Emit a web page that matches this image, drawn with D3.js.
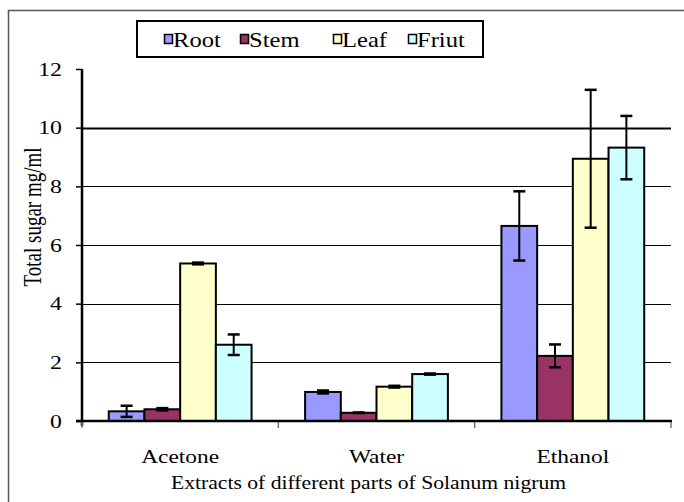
<!DOCTYPE html>
<html>
<head>
<meta charset="utf-8">
<script src="https://cdn.jsdelivr.net/npm/d3@7"></script>
<style>
  body { margin: 0; background: #fff; }
</style>
</head>
<body>
<div id="chart"></div>
<script>
// data
var categories = ["Acetone", "Water", "Ethanol"];
var seriesNames = ["Root", "Stem", "Leaf", "Friut"];
var rootValues = [0.33, 0.99, 6.65];
var stemValues = [0.40, 0.28, 2.22];
var leafValues = [5.37, 1.17, 8.94];
var fruitValues = [2.60, 1.60, 9.32];
var rootErr = [0.19, 0.05, 1.18];
var stemErr = [0.04, 0.01, 0.39];
var leafErr = [0.03, 0.03, 2.35];
var fruitErr = [0.35, 0.02, 1.08];
var yTicks = [0, 2, 4, 6, 8, 10, 12];
var colors = ["#9999ff", "#993366", "#ffffcc", "#ccffff"];

var svgWidth = 684;
var svgHeight = 502;
var margin = { top: 69, right: 13, bottom: 81, left: 82 };
var width = svgWidth - margin.left - margin.right;
var height = svgHeight - margin.top - margin.bottom;
var stretch = 1.22;
var serif = "'Liberation Serif', 'Times New Roman', Tinos, 'DejaVu Serif', serif";

var svg = d3.select("#chart")
  .append("svg")
  .attr("width", svgWidth)
  .attr("height", svgHeight)
  .style("font-family", serif);

// outer frame
svg.append("rect")
  .attr("x", 8.5).attr("y", 10.5)
  .attr("width", 700).attr("height", 520)
  .attr("fill", "none")
  .attr("stroke", "#555")
  .attr("stroke-width", 1.5);

var chartGroup = svg.append("g")
  .attr("transform", `translate(${margin.left}, ${margin.top})`);

var valuesBySeries = [rootValues, stemValues, leafValues, fruitValues];
var errBySeries = [rootErr, stemErr, leafErr, fruitErr];

var data = [];
categories.forEach(function(cat, ci) {
  seriesNames.forEach(function(s, si) {
    data.push({ cat: cat, series: s, si: si, value: valuesBySeries[si][ci], err: errBySeries[si][ci] });
  });
});

var x0 = d3.scaleBand().domain(categories).range([0, width]);
// excel style gap of 150% of a bar width
var bw = x0.bandwidth() / 5.5;
var x1 = d3.scaleBand().domain(seriesNames)
  .range([bw * 0.75, bw * 4.75]);

var y = d3.scaleLinear().domain([0, 12]).range([height, 0]);

// gridlines
chartGroup.selectAll(".grid")
  .data(yTicks.filter(d => d > 0 && d < 12))
  .enter()
  .append("line")
  .attr("x1", 0).attr("x2", width)
  .attr("y1", d => Math.round(y(d)) + 0.5)
  .attr("y2", d => Math.round(y(d)) + 0.5)
  .attr("stroke", "#000")
  .attr("stroke-width", d => d === 10 ? 2 : 1);

// bars
chartGroup.selectAll(".bar")
  .data(data)
  .enter()
  .append("rect")
  .attr("x", d => x0(d.cat) + x1(d.series))
  .attr("y", d => y(d.value))
  .attr("width", x1.bandwidth())
  .attr("height", d => height - y(d.value))
  .attr("fill", d => colors[d.si])
  .attr("stroke", "#000")
  .attr("stroke-width", 2);

// error bars
var errGroup = chartGroup.selectAll(".err")
  .data(data)
  .enter()
  .append("g")
  .attr("transform", d => `translate(${x0(d.cat) + x1(d.series) + x1.bandwidth() / 2}, 0)`);

errGroup.append("line")
  .attr("x1", 0).attr("x2", 0)
  .attr("y1", d => y(d.value + d.err))
  .attr("y2", d => y(d.value - d.err))
  .attr("stroke", "#000").attr("stroke-width", 2);

errGroup.selectAll(".cap")
  .data(d => [d.value + d.err, d.value - d.err])
  .enter()
  .append("line")
  .attr("x1", -6).attr("x2", 6)
  .attr("y1", d => y(d)).attr("y2", d => y(d))
  .attr("stroke", "#000").attr("stroke-width", 2.5);

// y axis
var leftAxis = d3.axisLeft(y).tickValues(yTicks).tickSize(6).tickFormat(d3.format("d"));
var yAxis = chartGroup.append("g").call(leftAxis);
yAxis.select(".domain").remove();
yAxis.selectAll(".tick line").attr("stroke", "#000").attr("stroke-width", 1.5);
yAxis.selectAll(".tick text").remove();
chartGroup.append("line")
  .attr("x1", 0).attr("x2", 0)
  .attr("y1", 0).attr("y2", height + 5)
  .attr("stroke", "#000").attr("stroke-width", 2.5);

yAxis.selectAll(".tick")
  .append("text")
  .attr("text-anchor", "end")
  .attr("font-family", serif)
  .attr("font-size", 19.5)
  .attr("fill", "#000")
  .attr("transform", `translate(-20, 6) scale(${stretch}, 1)`)
  .text(d => d);

// x axis
var xAxis = chartGroup.append("g")
  .attr("transform", `translate(0, ${height})`);
xAxis.selectAll(".xtick")
  .data(categories.map(c => x0(c)).concat([width]))
  .enter()
  .append("line")
  .attr("x1", d => d).attr("x2", d => d)
  .attr("y1", 0).attr("y2", 7)
  .attr("stroke", "#777").attr("stroke-width", 1.5);
xAxis.append("line")
  .attr("x1", -6).attr("x2", width + 1)
  .attr("y1", 0).attr("y2", 0)
  .attr("stroke", "#000").attr("stroke-width", 2.5);

xAxis.selectAll(".xlabel")
  .data(categories)
  .enter()
  .append("text")
  .attr("text-anchor", "middle")
  .attr("font-family", serif)
  .attr("font-size", 19.5)
  .attr("transform", d => `translate(${x0(d) + x0.bandwidth() / 2}, 42) scale(1.2, 1)`)
  .text(d => d);

// axis titles
chartGroup.append("text")
  .attr("text-anchor", "middle")
  .attr("font-family", serif)
  .attr("font-size", 19)
  .attr("transform", `translate(${width / 2 - 8}, ${height + 68}) scale(1.14, 1)`)
  .text("Extracts of different parts of Solanum nigrum");

svg.append("text")
  .attr("text-anchor", "middle")
  .attr("font-family", serif)
  .attr("font-size", 19)
  .attr("transform", `translate(41, 217) scale(1.28, 1) rotate(-90)`)
  .text("Total sugar mg/ml");

// legend
var legend = svg.append("g");
legend.append("rect")
  .attr("x", 137).attr("y", 21)
  .attr("width", 346).attr("height", 36)
  .attr("fill", "#fff")
  .attr("stroke", "#000").attr("stroke-width", 2);

var legendX = [164, 240, 333, 408];
seriesNames.forEach(function(s, i) {
  var item = legend.append("g").attr("transform", `translate(${legendX[i]}, 0)`);
  item.append("rect")
    .attr("x", 0.5).attr("y", 34.5)
    .attr("width", 8).attr("height", 9)
    .attr("fill", colors[i])
    .attr("stroke", "#000").attr("stroke-width", 1.5);
  item.append("text")
    .attr("font-family", serif)
    .attr("font-size", 21)
    .attr("transform", `translate(9, 47) scale(1.17, 1)`)
    .text(s);
});
</script>
</body>
</html>
